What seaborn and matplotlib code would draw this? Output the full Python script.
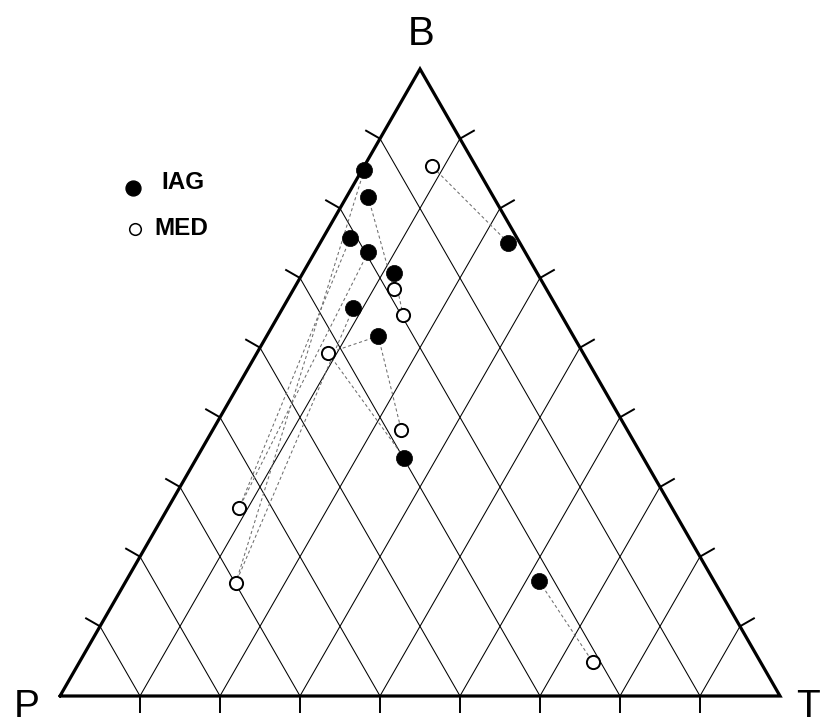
import numpy as np
import pandas as pd
import matplotlib
matplotlib.use("Agg")
import matplotlib.pyplot as plt
import seaborn as sns

# Ternary compositions in percent: P, T, B
IAG_P = [15.8, 17.4, 23.2, 21.8, 1.6, 19.9, 28.4, 27.1, 33.2, 24.3]
IAG_T = [0.3, 3.0, 3.8, 7.4, 26.1, 12.7, 9.8, 15.5, 28.8, 57.4]
IAG_B = [83.9, 79.6, 73.0, 70.8, 72.3, 67.5, 61.9, 57.4, 38.0, 18.3]

MED_P = [6.1, 21.2, 22.0, 35.4, 31.4, 60.2, 66.6, 23.3]
MED_T = [9.4, 13.9, 17.3, 9.9, 26.2, 9.9, 15.4, 71.3]
MED_B = [84.5, 64.9, 60.8, 54.7, 42.4, 30.0, 18.0, 5.4]

# dashed links: (IAG index, MED index)
LINKS = [(0, 6), (2, 5), (3, 5), (6, 6), (1, 1), (5, 2),
         (7, 3), (7, 4), (8, 3), (4, 0), (9, 7)]

N_DIV = 9
CORNER_LABELS = ["P", "T", "B"]
LEGEND_LABELS = ["IAG", "MED"]

# layout of the triangle in pixel space (axes spans the whole figure)
W, H = 824, 725
P_XY = np.array([60.0, 696.0])
T_XY = np.array([780.0, 696.0])
B_XY = np.array([420.0, 69.0])
TICK_LEN = 17


def tern_to_xy(p, t, b):
    p, t, b = np.asarray(p, float), np.asarray(t, float), np.asarray(b, float)
    s = p + t + b
    x = (p * P_XY[0] + t * T_XY[0] + b * B_XY[0]) / s
    y = (p * P_XY[1] + t * T_XY[1] + b * B_XY[1]) / s
    return x, y


def unit(v):
    v = np.asarray(v, float)
    return v / np.hypot(*v)


sns.set_style("white")
plt.rcParams["font.family"] = ["Liberation Sans", "DejaVu Sans"]
plt.rcParams["text.color"] = "black"

fig = plt.figure(figsize=(W / 100, H / 100), dpi=100)
ax = fig.add_axes([0, 0, 1, 1])
ax.set_xlim(0, W)
ax.set_ylim(H, 0)
ax.axis("off")

# grid lines parallel to the two sloped edges
for k in range(1, N_DIV):
    f = k / N_DIV
    a1 = P_XY + f * (B_XY - P_XY)
    a2 = P_XY + f * (T_XY - P_XY)
    ax.plot([a1[0], a2[0]], [a1[1], a2[1]], color="black", lw=0.75, zorder=1)
    b1 = T_XY + f * (B_XY - T_XY)
    b2 = T_XY + f * (P_XY - T_XY)
    ax.plot([b1[0], b2[0]], [b1[1], b2[1]], color="black", lw=0.75, zorder=1)

# ticks, perpendicular and outward
n_left = unit([-(B_XY - P_XY)[1], (B_XY - P_XY)[0]])
if n_left[0] > 0:
    n_left = -n_left
n_right = unit([-(B_XY - T_XY)[1], (B_XY - T_XY)[0]])
if n_right[0] < 0:
    n_right = -n_right
n_base = np.array([0.0, 1.0])
for k in range(1, N_DIV):
    f = k / N_DIV
    for start, end, n in [(P_XY, B_XY, n_left), (T_XY, B_XY, n_right), (P_XY, T_XY, n_base)]:
        a = start + f * (end - start)
        c = a + TICK_LEN * n
        ax.plot([a[0], c[0]], [a[1], c[1]], color="black", lw=1.4,
                solid_capstyle="butt", zorder=2, clip_on=False)

# triangle outline
tri = np.array([P_XY, T_XY, B_XY, P_XY])
ax.plot(tri[:, 0], tri[:, 1], color="black", lw=2.3, zorder=3,
        solid_joinstyle="miter", clip_on=False)

# data
ix, iy = tern_to_xy(IAG_P, IAG_T, IAG_B)
mx, my = tern_to_xy(MED_P, MED_T, MED_B)

for i, m in LINKS:
    ax.plot([ix[i], mx[m]], [iy[i], my[m]], color="#6e6e6e", lw=0.75,
            dashes=(3, 2.5), zorder=4)

iag = pd.DataFrame({"x": ix, "y": iy})
med = pd.DataFrame({"x": mx, "y": my})
sns.scatterplot(data=iag, x="x", y="y", ax=ax, s=135, color="black",
                edgecolor="black", linewidth=0.5, zorder=5, legend=False)
sns.scatterplot(data=med, x="x", y="y", ax=ax, s=90, facecolor="white",
                edgecolor="black", linewidth=1.4, zorder=5, legend=False)

# legend
ax.scatter([133], [188], s=115, color="black", zorder=5, clip_on=False)
ax.scatter([135], [229], s=70, facecolor="white", edgecolor="black",
           linewidth=1.1, zorder=5, clip_on=False)
ax.text(161, 182, LEGEND_LABELS[0], fontsize=17.5, fontweight="bold",
        ha="left", va="center")
ax.text(154, 228, LEGEND_LABELS[1], fontsize=17.5, fontweight="bold",
        ha="left", va="center")

# corner labels
ax.text(27, 717, CORNER_LABELS[0], fontsize=28, ha="center", va="baseline")
ax.text(808, 717, CORNER_LABELS[1], fontsize=28, ha="center", va="baseline")
ax.text(421, 45, CORNER_LABELS[2], fontsize=29, ha="center", va="baseline")

fig.savefig("out.png", dpi=100)
